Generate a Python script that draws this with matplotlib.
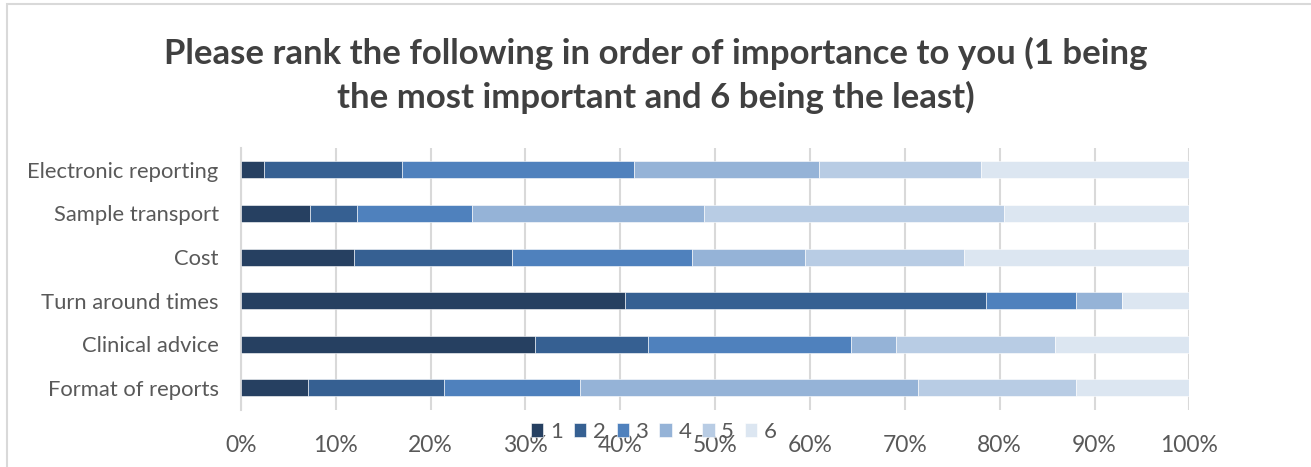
import numpy as np
import matplotlib.pyplot as plt
from matplotlib.patches import Rectangle

# Categories, top to bottom as shown
categories = ['Electronic reporting', 'Sample transport', 'Cost',
              'Turn around times', 'Clinical advice', 'Format of reports']
ranks = ['1', '2', '3', '4', '5', '6']

# Share of respondents (%) giving each rank
rank1 = [2.4, 7.3, 11.9, 40.5, 31.0, 7.1]
rank2 = [14.6, 4.9, 16.7, 38.1, 11.9, 14.3]
rank3 = [24.4, 12.2, 19.0, 9.5, 21.4, 14.3]
rank4 = [19.5, 24.4, 11.9, 4.8, 4.8, 35.7]
rank5 = [17.1, 31.7, 16.7, 0.0, 16.7, 16.7]
rank6 = [22.0, 19.5, 23.8, 7.1, 14.3, 11.9]

colors = ['#264061', '#366092', '#4f81bd', '#95b3d7', '#b8cce4', '#dce6f1']
title = ('Please rank the following in order of importance to you (1 being\n'
         'the most important and 6 being the least)')

plt.rcParams['font.family'] = ['Lato', 'DejaVu Sans']

fig = plt.figure(figsize=(13.11, 4.67), dpi=100)
ax = fig.add_axes([0.1838, 0.1225, 0.9072 - 0.1838, 0.6831 - 0.1225])

# chart border (light gray), runs off the right and bottom edges
fig.patches.append(Rectangle((7 / 1311, -0.1), 1.2, 1 - 4 / 467 + 0.1,
                             transform=fig.transFigure, fill=False,
                             edgecolor='#d9d9d9', linewidth=1.5))

y = np.arange(len(categories))
left = np.zeros(len(categories))
for vals, lab, col in zip([rank1, rank2, rank3, rank4, rank5, rank6], ranks, colors):
    ax.barh(y, vals, left=left, height=0.39, color=col, label=lab,
            edgecolor='white', linewidth=0.4, zorder=3)
    left += np.array(vals)

ax.set_xlim(0, 100)
ax.set_ylim(len(categories) - 0.5, -0.5)
ax.set_xticks(np.arange(0, 101, 10))
ax.set_xticklabels([f'{t}%' for t in range(0, 101, 10)])
ax.set_yticks(y)
ax.set_yticklabels(categories)
ax.tick_params(axis='both', length=0, labelcolor='#595959')
ax.tick_params(axis='x', pad=18, labelsize=16.5)
ax.tick_params(axis='y', pad=16, labelsize=15.8)
ax.grid(axis='x', color='#d9d9d9', linewidth=1.5, zorder=0)
for s in ['top', 'right', 'bottom']:
    ax.spines[s].set_visible(False)
ax.spines['left'].set_color('#d9d9d9')
ax.spines['left'].set_linewidth(1.5)

fig.text(0.5, 1 - 75 / 467, title, ha='center', va='center', fontsize=25,
         fontweight='bold', color='#404040', linespacing=1.4)

# legend sits over the tick labels, as in the original
fig.legend(loc='center', bbox_to_anchor=(654 / 1311, 1 - 432 / 467), ncol=6,
           frameon=False, fontsize=16, labelcolor='#595959',
           handlelength=0.55, handleheight=0.55, handletextpad=0.3,
           columnspacing=0.5)

fig.savefig('out.png', dpi=100)
